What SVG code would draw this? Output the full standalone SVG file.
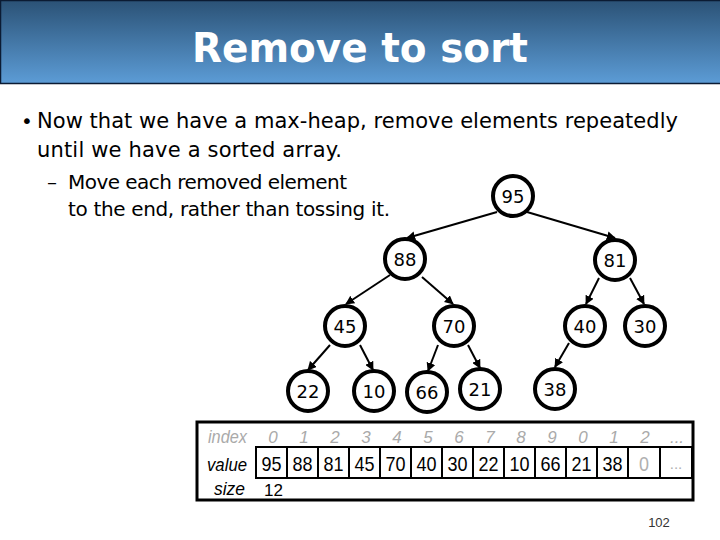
<svg xmlns="http://www.w3.org/2000/svg" width="720" height="540" viewBox="0 0 720 540">
<style>
.body{font-family:"DejaVu Sans","Liberation Sans",sans-serif;fill:#000}
.node circle{fill:#fff;stroke:#000;stroke-width:4}
.node text{font-family:"DejaVu Sans","Liberation Sans",sans-serif;font-size:18px;text-anchor:middle;fill:#000}
.edge{stroke:#000;stroke-width:2;fill:none;marker-end:url(#arr)}
.cell{fill:#fff;stroke:#000;stroke-width:2}
.lbl{font-family:"Liberation Sans",sans-serif;font-style:italic;font-size:18px}
.idx{font-family:"Liberation Sans",sans-serif;font-style:italic;font-size:17px;fill:#aaaaaa;text-anchor:middle}
.val{font-family:"Liberation Sans",sans-serif;font-size:21px;fill:#000;text-anchor:middle}
.gray{fill:#b0b0b0}
</style>
<defs>
<linearGradient id="tg" x1="0" y1="0" x2="0" y2="1">
<stop offset="0" stop-color="#2b5276"/>
<stop offset="1" stop-color="#5c9cd6"/>
</linearGradient>
<marker id="arr" viewBox="0 0 10 10" refX="9" refY="5" markerWidth="9" markerHeight="9" markerUnits="userSpaceOnUse" orient="auto">
<path d="M0,0 L10,5 L0,10 z" fill="#000"/>
</marker>
</defs>
<rect x="0" y="0" width="720" height="540" fill="#fff"/>
<g id="title">
<rect x="0.5" y="0.5" width="722" height="83" fill="url(#tg)" stroke="#0b1b33" stroke-width="1.5"/>
<text x="360" y="62" text-anchor="middle" font-family="DejaVu Sans, Liberation Sans, sans-serif" font-weight="bold" font-size="41" fill="#fff" textLength="336" lengthAdjust="spacingAndGlyphs">Remove to sort</text>
</g>
<g id="bullets" class="body">
<text x="21" y="128" font-size="20">•</text>
<text x="37" y="128" font-size="21" textLength="641">Now that we have a max-heap, remove elements repeatedly</text>
<text x="37" y="157" font-size="21" textLength="305">until we have a sorted array.</text>
<text x="47" y="189" font-size="20">–</text>
<text x="68" y="189" font-size="20" textLength="279">Move each removed element</text>
<text x="68" y="216" font-size="20" textLength="322">to the end, rather than tossing it.</text>
</g>
<g id="connectors">
<line class="edge" x1="497" y1="212" x2="407" y2="238"/>
<line class="edge" x1="527" y1="212" x2="615" y2="238"/>
<line class="edge" x1="390" y1="275" x2="346" y2="304"/>
<line class="edge" x1="422" y1="277" x2="453" y2="304"/>
<line class="edge" x1="599" y1="278" x2="586" y2="304"/>
<line class="edge" x1="630" y1="278" x2="644" y2="304"/>
<line class="edge" x1="330" y1="345" x2="308" y2="370"/>
<line class="edge" x1="360" y1="345" x2="373" y2="370"/>
<line class="edge" x1="438" y1="345" x2="428" y2="371"/>
<line class="edge" x1="468" y1="345" x2="480" y2="368"/>
<line class="edge" x1="569" y1="343" x2="555" y2="367"/>
</g>
<g id="n95" class="node"><circle cx="513" cy="196" r="20"/><text x="513" y="202.5">95</text></g>
<g id="n88" class="node"><circle cx="405" cy="259" r="20"/><text x="405" y="265.5">88</text></g>
<g id="n81" class="node"><circle cx="615" cy="260" r="20"/><text x="615" y="266.5">81</text></g>
<g id="n45" class="node"><circle cx="345" cy="326" r="20"/><text x="345" y="332.5">45</text></g>
<g id="n70" class="node"><circle cx="454" cy="326" r="20"/><text x="454" y="332.5">70</text></g>
<g id="n40" class="node"><circle cx="585" cy="326" r="20"/><text x="585" y="332.5">40</text></g>
<g id="n30" class="node"><circle cx="645" cy="326" r="20"/><text x="645" y="332.5">30</text></g>
<g id="n22" class="node"><circle cx="308" cy="391" r="20"/><text x="308" y="397.5">22</text></g>
<g id="n10" class="node"><circle cx="374" cy="391" r="20"/><text x="374" y="397.5">10</text></g>
<g id="n66" class="node"><circle cx="427" cy="392" r="20"/><text x="427" y="398.5">66</text></g>
<g id="n21" class="node"><circle cx="480" cy="389" r="20"/><text x="480" y="395.5">21</text></g>
<g id="n38" class="node"><circle cx="555" cy="389" r="20"/><text x="555" y="395.5">38</text></g>
<g id="array">
<rect x="197" y="422" width="496" height="78" fill="#fff" stroke="#000" stroke-width="3"/>
<text class="lbl" x="208" y="443" fill="#aaaaaa" textLength="39" lengthAdjust="spacingAndGlyphs">index</text>
<text class="lbl" x="207" y="471" fill="#000" textLength="40" lengthAdjust="spacingAndGlyphs">value</text>
<text class="lbl" x="214" y="495" fill="#000" textLength="31" lengthAdjust="spacingAndGlyphs">size</text>
<g class="idx">
<text x="273" y="443">0</text><text x="304" y="443">1</text><text x="335" y="443">2</text><text x="366" y="443">3</text><text x="397" y="443">4</text><text x="428" y="443">5</text><text x="459" y="443">6</text><text x="490" y="443">7</text><text x="521" y="443">8</text><text x="552" y="443">9</text><text x="583" y="443">0</text><text x="614" y="443">1</text><text x="645" y="443">2</text><text x="677" y="443">...</text>
</g>
<rect class="cell" x="256" y="447" width="31" height="31"/>
<rect class="cell" x="287" y="447" width="31" height="31"/>
<rect class="cell" x="318" y="447" width="31" height="31"/>
<rect class="cell" x="349" y="447" width="31" height="31"/>
<rect class="cell" x="380" y="447" width="31" height="31"/>
<rect class="cell" x="411" y="447" width="31" height="31"/>
<rect class="cell" x="442" y="447" width="31" height="31"/>
<rect class="cell" x="473" y="447" width="31" height="31"/>
<rect class="cell" x="504" y="447" width="31" height="31"/>
<rect class="cell" x="535" y="447" width="31" height="31"/>
<rect class="cell" x="566" y="447" width="31" height="31"/>
<rect class="cell" x="597" y="447" width="31" height="31"/>
<rect class="cell" x="628" y="447" width="32" height="31"/>
<rect class="cell" x="660" y="447" width="32" height="31"/>
<g class="val">
<text x="271.5" y="471" textLength="20" lengthAdjust="spacingAndGlyphs">95</text>
<text x="302.5" y="471" textLength="20" lengthAdjust="spacingAndGlyphs">88</text>
<text x="333.5" y="471" textLength="20" lengthAdjust="spacingAndGlyphs">81</text>
<text x="364.5" y="471" textLength="20" lengthAdjust="spacingAndGlyphs">45</text>
<text x="395.5" y="471" textLength="20" lengthAdjust="spacingAndGlyphs">70</text>
<text x="426.5" y="471" textLength="20" lengthAdjust="spacingAndGlyphs">40</text>
<text x="457.5" y="471" textLength="20" lengthAdjust="spacingAndGlyphs">30</text>
<text x="488.5" y="471" textLength="20" lengthAdjust="spacingAndGlyphs">22</text>
<text x="519.5" y="471" textLength="20" lengthAdjust="spacingAndGlyphs">10</text>
<text x="550.5" y="471" textLength="20" lengthAdjust="spacingAndGlyphs">66</text>
<text x="581.5" y="471" textLength="20" lengthAdjust="spacingAndGlyphs">21</text>
<text x="612.5" y="471" textLength="20" lengthAdjust="spacingAndGlyphs">38</text>
<text class="gray" x="644" y="471" textLength="10" lengthAdjust="spacingAndGlyphs">0</text>
<text class="gray" x="676" y="469" font-size="15">...</text>
</g>
<text x="264" y="496" font-family="Liberation Sans, sans-serif" font-size="17">12</text>
</g>
<text id="pagenum" x="659" y="527" text-anchor="middle" font-family="Liberation Sans, sans-serif" font-size="13" fill="#333">102</text>
</svg>
